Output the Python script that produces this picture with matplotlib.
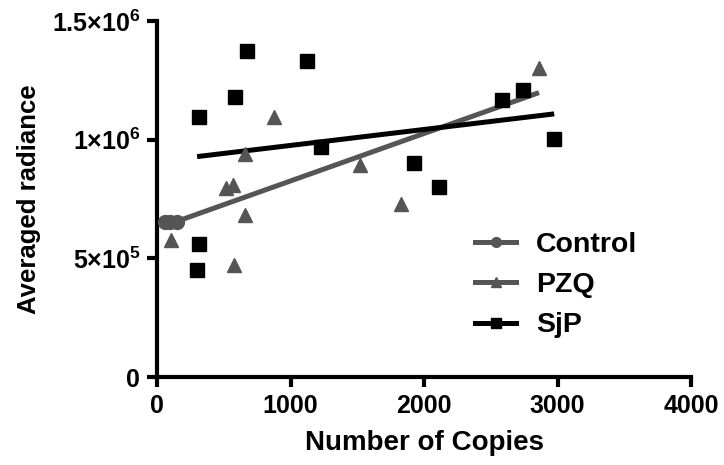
import numpy as np
import matplotlib.pyplot as plt

plt.rcParams['font.family'] = ['Liberation Sans', 'DejaVu Sans']
plt.rcParams['font.weight'] = 'bold'
plt.rcParams['axes.labelweight'] = 'bold'
plt.rcParams['mathtext.fontset'] = 'custom'
plt.rcParams['mathtext.rm'] = 'Liberation Sans:bold'
plt.rcParams['mathtext.default'] = 'rm'

# Data
control_x = [60, 100, 150]
control_y = [655000, 655000, 655000]

pzq_x = [105, 517, 570, 577, 659, 659, 876, 1520, 1828, 2861]
pzq_y = [577000, 796000, 809000, 472000, 682000, 939000, 1095000, 895000, 729000, 1302000]

sjp_x = [300, 315, 316, 585, 674, 1123, 1228, 1925, 2112, 2585, 2742, 2975]
sjp_y = [451000, 1095000, 560000, 1179000, 1373000, 1331000, 969000, 902000, 800000,
         1167000, 1209000, 1002000]

x_ticks = [0, 1000, 2000, 3000, 4000]
y_ticks = [0, 500000, 1000000, 1500000]
y_tick_labels = ["0", r"5$\times$10$^{5}$", r"1$\times$10$^{6}$", r"1.5$\times$10$^{6}$"]

gray = "#555555"
black = "#000000"

fig = plt.figure(figsize=(7.24, 4.65), dpi=100)
ax = fig.add_axes([0.2169, 0.1892, 0.7376, 0.7656])


def fit_line(x, y):
    k, b = np.polyfit(x, y, 1)
    xs = np.array([min(x), max(x)])
    return xs, k * xs + b


# regression lines
xs, ys = fit_line(pzq_x, pzq_y)
ax.plot(xs, ys, color=gray, lw=3.6, solid_capstyle="butt", zorder=2)
xs, ys = fit_line(sjp_x, sjp_y)
ax.plot(xs, ys, color=black, lw=3.6, solid_capstyle="butt", zorder=2)

# points
ax.plot(control_x, control_y, "o", color=gray, ms=10, zorder=3)
ax.plot(pzq_x, pzq_y, "^", color=gray, ms=10, zorder=3)
ax.plot(sjp_x, sjp_y, "s", color=black, ms=10, zorder=3)

# legend handles
ax.plot([], [], "-o", color=gray, lw=3.6, ms=7, label="Control")
ax.plot([], [], "-^", color=gray, lw=3.6, ms=7, label="PZQ")
ax.plot([], [], "-s", color=black, lw=3.6, ms=7, label="SjP")

ax.set_xlim(0, 4000)
ax.set_ylim(0, 1500000)
ax.set_xticks(x_ticks)
ax.set_yticks(y_ticks)
ax.set_yticklabels(y_tick_labels)

for s in ["top", "right"]:
    ax.spines[s].set_visible(False)
for s in ["left", "bottom"]:
    ax.spines[s].set_linewidth(3)
ax.tick_params(width=3, length=7, labelsize=18, direction="out", pad=5)

ax.set_xlabel("Number of Copies", fontsize=20, fontweight="bold", labelpad=9)
ax.set_ylabel("Averaged radiance", fontsize=18.5, fontweight="bold", labelpad=8)

leg = ax.legend(loc="upper left", bbox_to_anchor=(475 / 724, 1 - 232 / 465),
                bbox_transform=fig.transFigure, frameon=False, borderpad=0,
                borderaxespad=0, fontsize=20.5, handlelength=1.45,
                labelspacing=0.5, handletextpad=0.7)

fig.savefig("out.png", dpi=100)
